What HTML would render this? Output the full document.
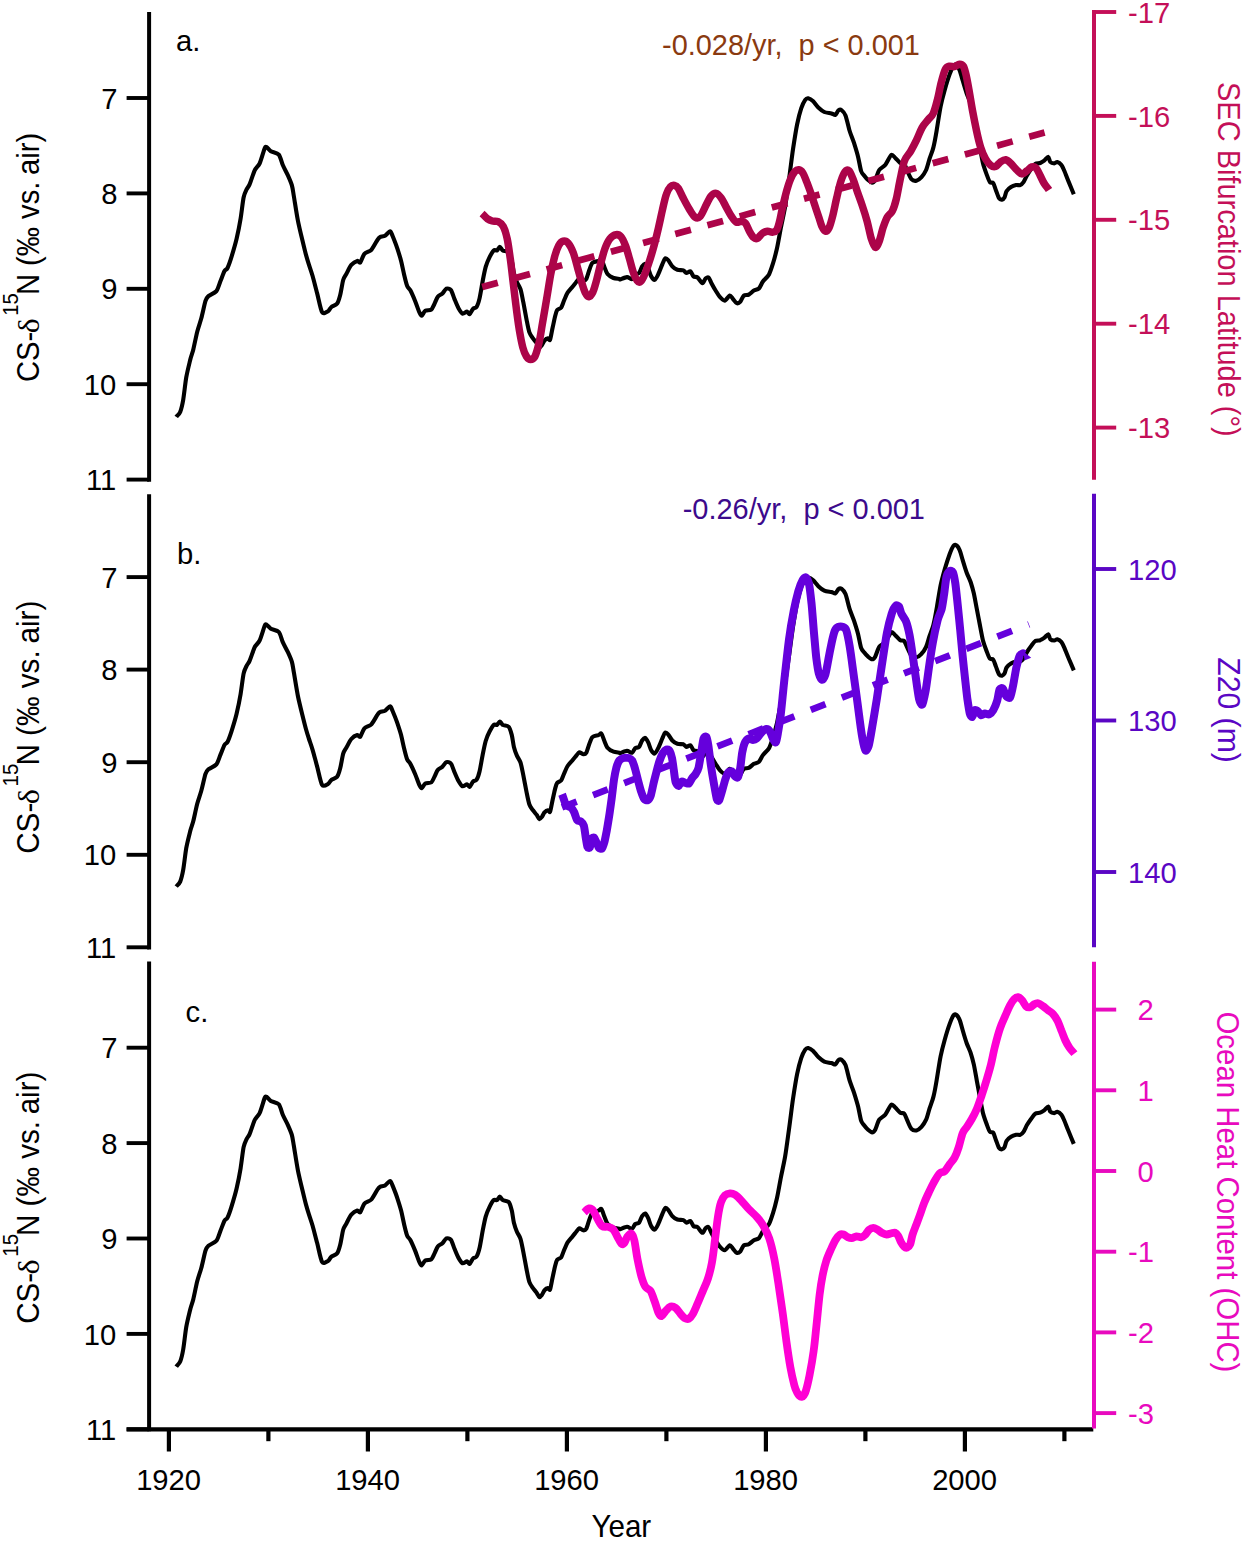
<!DOCTYPE html>
<html><head><meta charset="utf-8"><title>figure</title>
<style>html,body{margin:0;padding:0;background:#fff;}body{width:1242px;height:1542px;overflow:hidden;}svg{display:block;}text{font-family:"Liberation Sans",sans-serif;}text.sy{font-family:"Liberation Serif",serif;}</style>
</head><body>
<svg width="1242" height="1542" viewBox="0 0 1242 1542">
<rect width="1242" height="1542" fill="#ffffff"/>
<line x1="126.6" y1="1429.4" x2="1093.3" y2="1429.4" stroke="#000" stroke-width="4.4"/>
<line x1="168.9" y1="1429.4" x2="168.9" y2="1451.5" stroke="#000" stroke-width="4.2"/>
<text transform="translate(168.6,1490.3) scale(1.0,1.03)" font-size="29.2" fill="#000" text-anchor="middle">1920</text>
<line x1="268.4" y1="1429.4" x2="268.4" y2="1441.2" stroke="#000" stroke-width="4.2"/>
<line x1="367.9" y1="1429.4" x2="367.9" y2="1451.5" stroke="#000" stroke-width="4.2"/>
<text transform="translate(367.6,1490.3) scale(1.0,1.03)" font-size="29.2" fill="#000" text-anchor="middle">1940</text>
<line x1="467.4" y1="1429.4" x2="467.4" y2="1441.2" stroke="#000" stroke-width="4.2"/>
<line x1="566.9" y1="1429.4" x2="566.9" y2="1451.5" stroke="#000" stroke-width="4.2"/>
<text transform="translate(566.6,1490.3) scale(1.0,1.03)" font-size="29.2" fill="#000" text-anchor="middle">1960</text>
<line x1="666.4" y1="1429.4" x2="666.4" y2="1441.2" stroke="#000" stroke-width="4.2"/>
<line x1="765.9" y1="1429.4" x2="765.9" y2="1451.5" stroke="#000" stroke-width="4.2"/>
<text transform="translate(765.6,1490.3) scale(1.0,1.03)" font-size="29.2" fill="#000" text-anchor="middle">1980</text>
<line x1="865.4" y1="1429.4" x2="865.4" y2="1441.2" stroke="#000" stroke-width="4.2"/>
<line x1="964.9" y1="1429.4" x2="964.9" y2="1451.5" stroke="#000" stroke-width="4.2"/>
<text transform="translate(964.6,1490.3) scale(1.0,1.03)" font-size="29.2" fill="#000" text-anchor="middle">2000</text>
<line x1="1064.4" y1="1429.4" x2="1064.4" y2="1441.2" stroke="#000" stroke-width="4.2"/>
<text transform="translate(621.3,1537.3) scale(1.0,1.03)" font-size="29.6" fill="#000" text-anchor="middle">Year</text>
<line x1="149.1" y1="12.1" x2="149.1" y2="481.7" stroke="#000" stroke-width="4.0"/>
<line x1="126.6" y1="98.0" x2="149.1" y2="98.0" stroke="#000" stroke-width="3.9"/>
<text transform="translate(117.6,108.6) scale(1.0,1.03)" font-size="29.2" fill="#000" text-anchor="end">7</text>
<line x1="126.6" y1="193.4" x2="149.1" y2="193.4" stroke="#000" stroke-width="3.9"/>
<text transform="translate(117.6,204.0) scale(1.0,1.03)" font-size="29.2" fill="#000" text-anchor="end">8</text>
<line x1="126.6" y1="288.8" x2="149.1" y2="288.8" stroke="#000" stroke-width="3.9"/>
<text transform="translate(117.6,299.4) scale(1.0,1.03)" font-size="29.2" fill="#000" text-anchor="end">9</text>
<line x1="126.6" y1="384.2" x2="149.1" y2="384.2" stroke="#000" stroke-width="3.9"/>
<text transform="translate(116.2,394.8) scale(1.0,1.03)" font-size="29.2" fill="#000" text-anchor="end">10</text>
<line x1="126.6" y1="479.6" x2="149.1" y2="479.6" stroke="#000" stroke-width="3.9"/>
<text transform="translate(116.2,490.2) scale(1.0,1.03)" font-size="29.2" fill="#000" text-anchor="end">11</text>
<line x1="1094.0" y1="10.0" x2="1094.0" y2="479.7" stroke="#c40f58" stroke-width="4.0"/>
<line x1="1094.0" y1="12.0" x2="1116.2" y2="12.0" stroke="#c40f58" stroke-width="3.9"/>
<text transform="translate(1128.0,22.6) scale(1.0,1.03)" font-size="29.2" fill="#c40f58" text-anchor="start">-17</text>
<line x1="1094.0" y1="115.9" x2="1116.2" y2="115.9" stroke="#c40f58" stroke-width="3.9"/>
<text transform="translate(1128.0,126.5) scale(1.0,1.03)" font-size="29.2" fill="#c40f58" text-anchor="start">-16</text>
<line x1="1094.0" y1="219.8" x2="1116.2" y2="219.8" stroke="#c40f58" stroke-width="3.9"/>
<text transform="translate(1128.0,230.4) scale(1.0,1.03)" font-size="29.2" fill="#c40f58" text-anchor="start">-15</text>
<line x1="1094.0" y1="323.7" x2="1116.2" y2="323.7" stroke="#c40f58" stroke-width="3.9"/>
<text transform="translate(1128.0,334.3) scale(1.0,1.03)" font-size="29.2" fill="#c40f58" text-anchor="start">-14</text>
<line x1="1094.0" y1="427.6" x2="1116.2" y2="427.6" stroke="#c40f58" stroke-width="3.9"/>
<text transform="translate(1128.0,438.2) scale(1.0,1.03)" font-size="29.2" fill="#c40f58" text-anchor="start">-13</text>
<g transform="translate(38.6,382.0) rotate(-90) scale(1,1.05)" fill="#000" font-size="29.20">
<text x="0" y="0">CS-</text>
<text transform="translate(48.8,0) scale(1.08,0.92)" class="sy" font-size="29.5">δ</text>
<text x="66.3" y="-19.2" font-size="20.3">15</text>
<text x="86.9" y="0">N (‰ vs.</text>
<text x="207.1" y="0">air)</text>
</g>
<text transform="translate(1217.5,82.0) rotate(90) scale(1,1.05)" font-size="29.0" fill="#c40f58">SEC Bifurcation Latitude (°)</text>
<text transform="translate(176.0,51.3) scale(1.0,1.03)" font-size="29.2" fill="#000" text-anchor="start">a.</text>
<text transform="translate(662.0,54.6) scale(1.0,1.03)" font-size="28.92" fill="#8a3a10" text-anchor="start">-0.028/yr,&#160; p &lt; 0.001</text>
<path d="M176.2,416.9C176.7,416.2 179.3,414.2 180.2,411.9C181.1,409.6 182.4,404.4 183.2,399.8C184.0,395.2 185.3,383.1 186.2,377.7C187.1,372.3 189.4,363.3 190.3,359.5C191.2,355.7 192.4,353.2 193.3,349.5C194.2,345.8 196.2,335.6 197.3,331.4C198.4,327.2 200.2,322.3 201.3,318.3C202.4,314.3 204.5,304.2 205.4,301.2C206.3,298.2 206.9,297.4 208.4,296.1C209.9,294.8 214.8,293.1 216.4,291.1C218.0,289.1 219.4,283.7 220.5,281.0C221.6,278.3 223.6,272.7 224.5,271.0C225.4,269.3 226.6,269.9 227.5,268.0C228.4,266.1 230.3,260.8 231.5,256.9C232.7,253.0 235.4,243.9 236.6,238.8C237.8,233.7 239.7,224.1 240.6,218.6C241.5,213.1 242.8,201.4 243.6,197.5C244.4,193.6 245.8,191.1 246.6,189.4C247.4,187.7 248.5,186.9 249.6,184.4C250.7,181.9 253.4,173.1 254.7,170.3C256.0,167.5 258.4,166.2 259.7,163.3C261.0,160.4 263.8,150.3 264.7,148.2C265.6,146.1 265.9,146.8 266.7,147.2C267.5,147.6 269.2,150.2 270.8,151.2C272.4,152.2 277.2,152.7 278.8,154.6C280.4,156.5 281.7,162.5 282.9,165.3C284.1,168.1 286.7,172.7 287.9,175.4C289.1,178.1 291.1,182.6 291.9,185.4C292.7,188.2 293.1,191.8 293.9,196.5C294.7,201.2 296.7,214.4 297.9,220.6C299.1,226.8 301.9,238.2 303.0,242.8C304.1,247.4 305.2,252.0 306.0,254.9C306.8,257.8 308.1,262.1 309.0,264.9C309.9,267.7 311.5,272.2 312.6,276.0C313.7,279.8 315.8,288.3 317.1,293.1C318.4,297.9 320.6,309.8 322.1,312.2C323.6,314.6 326.9,311.9 328.1,311.2C329.3,310.5 330.0,308.2 331.2,307.2C332.4,306.2 336.0,305.2 337.2,303.6C338.4,302.0 339.4,298.2 340.2,295.1C341.0,292.0 342.4,282.8 343.2,280.0C344.0,277.2 345.2,276.0 346.3,274.0C347.4,272.0 349.8,266.6 351.3,264.9C352.8,263.2 356.1,261.2 357.3,260.9C358.5,260.6 359.4,263.4 360.3,262.5C361.2,261.6 362.9,255.6 364.4,253.9C365.9,252.2 369.7,251.7 371.4,249.8C373.1,247.9 376.4,241.5 377.5,239.8C378.6,238.1 379.0,237.6 380.0,237.1C381.0,236.6 383.7,236.5 385.0,235.7C386.3,234.9 389.1,231.3 390.1,231.3C391.1,231.3 391.6,233.5 392.5,235.7C393.4,237.9 396.0,244.4 397.1,247.8C398.2,251.2 400.2,257.3 401.1,260.9C402.0,264.5 403.4,271.6 404.2,275.0C405.0,278.4 406.4,284.1 407.2,286.1C408.0,288.1 409.1,288.1 410.2,290.1C411.3,292.1 414.0,298.3 415.2,301.2C416.4,304.1 418.4,310.3 419.3,312.2C420.2,314.1 420.9,315.9 421.7,315.7C422.5,315.5 424.0,311.6 425.3,310.8C426.6,310.0 430.1,310.5 431.3,309.6C432.5,308.7 433.4,305.9 434.3,304.2C435.2,302.5 436.7,298.1 437.8,296.7C438.9,295.3 441.3,294.6 442.4,293.5C443.5,292.4 445.3,289.2 446.4,288.7C447.5,288.2 449.8,288.7 450.9,290.1C452.0,291.5 453.5,296.7 454.5,299.1C455.5,301.5 457.4,306.3 458.5,308.2C459.6,310.1 461.4,313.1 462.5,313.6C463.6,314.1 466.1,311.5 467.0,311.6C467.9,311.7 468.8,314.6 469.6,314.2C470.4,313.8 472.1,309.8 473.0,308.8C473.9,307.8 475.7,308.2 476.6,306.8C477.5,305.4 478.8,301.5 479.6,298.1C480.4,294.7 481.9,285.2 482.7,281.0C483.5,276.8 484.8,270.1 485.7,266.9C486.6,263.7 488.6,259.1 489.7,256.9C490.8,254.7 492.7,251.3 493.7,250.4C494.7,249.5 496.3,250.9 497.1,250.4C497.9,249.9 499.0,246.8 499.8,246.8C500.6,246.8 501.6,249.7 502.8,250.4C504.0,251.1 507.6,251.0 508.8,252.4C510.0,253.8 511.1,258.2 511.8,260.9C512.5,263.6 513.2,270.2 513.9,273.0C514.6,275.8 516.0,279.9 516.9,282.0C517.8,284.1 519.6,286.4 520.5,289.1C521.4,291.8 522.5,298.2 523.3,302.2C524.1,306.2 525.7,315.3 526.5,319.3C527.3,323.3 528.5,329.9 529.4,332.4C530.3,334.9 532.0,337.0 533.0,338.4C534.0,339.8 535.7,341.8 536.6,343.0C537.5,344.2 538.7,347.2 539.4,347.5C540.1,347.8 541.3,345.9 542.0,345.0C542.7,344.1 543.8,341.3 544.6,340.4C545.4,339.5 547.4,338.5 548.1,338.4C548.8,338.3 549.5,341.3 550.1,339.8C550.7,338.3 552.0,330.4 552.7,327.3C553.4,324.2 554.5,318.6 555.1,316.3C555.7,314.0 556.3,311.4 557.1,310.2C557.9,309.0 560.3,308.9 561.2,307.6C562.1,306.3 563.3,302.2 564.2,300.2C565.1,298.2 566.5,294.4 567.6,292.7C568.7,291.0 571.0,288.5 572.2,287.1C573.4,285.7 575.4,283.1 576.3,282.0C577.2,280.9 578.4,278.8 579.3,278.6C580.2,278.4 582.4,280.5 583.3,280.6C584.2,280.7 585.5,280.4 586.3,279.0C587.1,277.6 588.5,272.1 589.3,270.0C590.1,267.9 591.2,264.1 592.4,262.9C593.6,261.7 597.2,261.4 598.4,260.9C599.6,260.4 600.6,258.5 601.4,259.3C602.2,260.1 603.6,264.9 604.4,266.9C605.2,268.9 606.3,272.5 607.5,274.0C608.7,275.5 611.9,277.3 613.5,278.0C615.1,278.7 618.6,278.8 619.5,279.0C620.4,279.2 619.0,279.8 620.0,279.5C621.0,279.2 625.4,277.2 627.0,277.1C628.6,277.0 631.0,279.5 632.1,279.1C633.2,278.7 634.2,275.2 635.1,274.4C636.0,273.6 638.2,274.1 639.1,273.0C640.0,271.9 641.3,267.6 642.1,266.4C642.9,265.2 644.4,263.5 645.2,263.8C646.0,264.1 647.4,266.7 648.2,268.4C649.0,270.1 650.3,274.9 651.2,276.4C652.1,277.9 653.7,280.2 654.6,279.9C655.5,279.6 657.2,276.5 658.2,274.4C659.2,272.3 661.4,266.5 662.3,264.4C663.2,262.3 664.5,258.8 665.3,258.3C666.1,257.8 667.4,259.2 668.3,260.3C669.2,261.4 671.1,265.1 672.3,266.4C673.5,267.7 675.9,269.3 677.4,269.8C678.9,270.3 682.2,270.0 683.4,270.4C684.6,270.8 685.5,272.9 686.4,273.0C687.3,273.1 689.6,270.9 690.5,271.4C691.4,271.9 692.6,275.6 693.5,276.4C694.4,277.2 696.3,276.6 697.5,277.5C698.7,278.4 701.4,283.0 702.5,283.1C703.6,283.2 704.7,279.2 705.5,278.5C706.3,277.8 707.8,276.8 708.6,277.5C709.4,278.2 710.7,281.8 711.6,283.5C712.5,285.2 714.5,288.8 715.6,290.5C716.7,292.2 718.4,295.3 719.6,296.6C720.8,297.9 723.4,300.7 724.7,300.6C726.0,300.5 728.6,295.9 729.7,295.6C730.8,295.3 731.8,297.6 732.7,298.6C733.6,299.6 735.8,302.8 736.8,303.2C737.8,303.6 739.5,302.6 740.4,301.6C741.3,300.6 742.7,296.5 743.8,295.6C744.9,294.7 747.5,295.3 748.8,294.6C750.1,293.9 752.6,291.3 753.9,290.5C755.2,289.7 757.7,289.7 758.9,288.5C760.1,287.3 761.6,283.4 762.9,281.5C764.2,279.6 767.7,276.8 769.0,274.4C770.3,272.0 771.9,266.9 773.0,263.4C774.1,259.9 775.9,253.1 777.0,248.3C778.1,243.5 779.9,232.6 781.0,227.1C782.1,221.6 784.0,213.4 785.1,207.0C786.2,200.6 788.0,186.6 789.1,178.8C790.2,171.0 792.0,155.8 793.1,148.6C794.2,141.4 796.0,129.9 797.1,124.5C798.2,119.1 800.1,111.7 801.2,108.4C802.3,105.1 804.3,101.2 805.2,99.9C806.1,98.6 807.1,98.1 808.2,98.3C809.3,98.5 811.9,100.1 813.2,101.3C814.5,102.5 816.8,106.0 818.3,107.4C819.8,108.8 822.6,111.2 824.3,112.0C826.0,112.8 829.9,113.0 831.4,113.4C832.9,113.8 834.5,115.2 835.4,114.8C836.3,114.4 837.6,111.0 838.4,110.4C839.2,109.8 840.5,109.3 841.4,110.0C842.3,110.7 844.4,112.7 845.5,115.4C846.6,118.1 848.4,126.8 849.5,130.5C850.6,134.2 852.9,139.4 854.0,142.9C855.1,146.4 857.2,153.2 858.1,156.9C859.0,160.6 860.3,168.5 861.1,171.0C861.9,173.5 863.2,174.3 864.1,175.5C865.0,176.7 867.0,179.1 868.1,180.1C869.2,181.1 871.2,182.7 872.1,182.7C873.0,182.7 874.3,181.8 875.2,180.1C876.1,178.4 877.9,172.0 879.2,170.0C880.5,168.0 883.6,167.0 885.2,165.0C886.8,163.0 890.0,155.8 891.3,154.9C892.6,154.0 894.1,156.8 895.3,157.9C896.5,159.0 899.1,162.2 900.3,163.0C901.5,163.8 903.4,162.9 904.3,164.0C905.2,165.1 906.5,169.0 907.4,171.0C908.3,173.0 910.2,177.8 911.4,179.1C912.6,180.4 915.1,181.0 916.4,180.7C917.7,180.4 920.2,178.5 921.5,177.1C922.8,175.7 925.0,172.4 926.1,170.0C927.2,167.6 928.5,162.0 929.5,158.9C930.5,155.8 932.6,150.6 933.5,146.9C934.4,143.2 935.7,136.2 936.6,130.8C937.5,125.4 939.5,112.0 940.6,106.6C941.7,101.2 943.4,94.8 944.6,90.5C945.8,86.2 948.4,77.7 949.6,74.4C950.8,71.1 952.8,66.6 953.7,65.4C954.6,64.2 955.9,64.7 956.7,65.4C957.5,66.1 958.9,68.4 959.7,70.4C960.5,72.4 961.8,77.4 962.7,80.5C963.6,83.6 965.6,90.4 966.7,93.5C967.8,96.6 969.9,100.8 970.8,103.6C971.7,106.4 973.0,111.1 973.8,114.7C974.6,118.3 976.0,126.5 976.8,130.8C977.6,135.1 979.0,142.6 979.8,146.9C980.6,151.2 982.0,159.2 982.9,163.0C983.8,166.8 986.0,172.6 986.9,175.1C987.8,177.6 989.0,181.0 989.9,182.1C990.8,183.2 992.5,182.0 993.3,183.1C994.1,184.2 995.1,188.2 995.9,190.2C996.7,192.2 998.2,196.9 999.0,198.2C999.8,199.5 1001.3,199.7 1002.0,199.6C1002.7,199.5 1004.0,198.3 1004.6,197.2C1005.2,196.1 1005.7,192.5 1006.6,191.2C1007.5,189.9 1009.7,187.9 1011.0,187.1C1012.3,186.3 1014.9,185.4 1016.1,185.1C1017.3,184.8 1019.1,185.5 1020.1,185.1C1021.1,184.7 1022.6,183.4 1023.5,182.1C1024.4,180.8 1026.1,176.8 1027.1,175.1C1028.1,173.4 1030.1,170.5 1031.2,169.0C1032.3,167.5 1034.0,164.8 1035.2,164.0C1036.4,163.2 1039.0,163.5 1040.2,163.0C1041.4,162.5 1043.1,161.4 1044.2,160.6C1045.3,159.8 1047.5,156.7 1048.3,156.9C1049.1,157.1 1049.5,161.1 1050.3,162.0C1051.1,162.9 1053.4,163.4 1054.3,163.4C1055.2,163.4 1056.4,161.8 1057.3,162.0C1058.2,162.2 1060.5,163.8 1061.4,165.0C1062.3,166.2 1063.5,168.9 1064.4,171.0C1065.3,173.1 1067.1,178.0 1068.4,181.1C1069.7,184.2 1073.1,192.5 1073.8,194.2" fill="none" stroke="#000" stroke-width="4.1" stroke-linejoin="round" stroke-linecap="butt"/>
<line x1="482.2" y1="287.1" x2="1044.6" y2="132.6" stroke="#ac0449" stroke-width="6.7" stroke-dasharray="16.2 17.17"/>
<path d="M482.1,213.5C483.0,214.3 485.5,217.3 487.2,218.6C488.9,219.8 490.4,220.5 492.2,221.0C494.0,221.5 496.3,220.7 498.2,221.6C500.1,222.5 501.8,223.8 503.3,226.6C504.8,229.4 506.0,233.3 507.2,238.7C508.4,244.1 509.3,251.8 510.3,258.8C511.3,265.9 512.1,273.3 513.0,281.0C513.9,288.7 514.9,297.1 515.9,305.1C516.9,313.2 518.1,322.2 519.2,329.3C520.4,336.4 521.6,342.9 522.8,347.4C524.0,351.9 525.1,354.4 526.4,356.4C527.7,358.4 529.1,359.5 530.5,359.5C531.9,359.5 533.5,359.1 534.9,356.4C536.3,353.7 537.6,348.9 538.9,343.4C540.2,337.9 541.2,330.6 542.5,323.2C543.8,315.8 545.2,307.2 546.6,299.1C548.0,291.1 549.3,281.9 550.6,274.9C551.9,267.8 553.3,261.7 554.6,256.8C555.9,251.9 557.2,248.3 558.6,245.7C560.0,243.1 561.5,241.5 563.1,241.1C564.7,240.7 566.5,241.1 568.2,243.1C569.9,245.1 571.7,248.5 573.3,252.8C574.9,257.1 576.5,263.9 577.9,268.9C579.3,273.9 580.6,279.0 581.9,283.0C583.1,287.0 584.2,290.7 585.4,293.0C586.5,295.3 587.5,296.9 588.8,296.7C590.0,296.5 591.5,294.9 592.9,292.0C594.2,289.1 595.6,283.9 596.9,279.0C598.2,274.1 599.6,267.8 600.9,262.8C602.2,257.8 603.4,252.8 604.9,248.8C606.4,244.8 608.1,241.0 610.0,238.7C611.9,236.3 614.2,235.0 616.0,234.7C617.8,234.4 619.4,234.9 621.0,236.7C622.6,238.5 624.1,242.0 625.5,245.7C626.9,249.4 628.2,254.3 629.5,258.8C630.8,263.3 632.2,269.3 633.5,272.9C634.8,276.5 636.0,279.1 637.1,280.6C638.2,282.1 639.0,282.6 640.1,282.0C641.2,281.4 642.2,279.8 643.6,276.9C645.0,274.0 646.6,269.6 648.2,264.9C649.8,260.2 651.5,254.9 653.2,248.8C654.9,242.8 656.8,235.0 658.3,228.6C659.8,222.2 661.0,216.2 662.3,210.5C663.6,204.8 664.9,198.3 666.3,194.4C667.6,190.5 669.0,188.3 670.4,186.8C671.8,185.3 673.1,185.1 674.4,185.4C675.7,185.7 676.9,186.2 678.4,188.4C679.9,190.6 681.5,194.9 683.4,198.4C685.2,201.9 687.6,206.4 689.5,209.5C691.4,212.6 693.2,215.9 695.0,217.1C696.8,218.3 698.2,218.5 700.1,216.5C702.0,214.5 704.3,208.5 706.1,205.1C707.9,201.7 709.4,197.9 711.1,196.0C712.8,194.1 714.5,193.1 716.2,193.4C717.9,193.7 719.5,195.7 721.2,198.0C722.9,200.3 724.5,204.1 726.2,207.1C727.9,210.1 729.6,213.6 731.3,216.1C733.0,218.6 734.6,221.3 736.3,222.2C738.0,223.0 739.8,221.0 741.3,221.2C742.8,221.4 744.0,221.5 745.4,223.2C746.8,224.9 748.1,228.8 749.4,231.2C750.7,233.5 752.1,236.1 753.4,237.3C754.7,238.5 755.9,239.0 757.4,238.3C758.9,237.6 760.8,234.4 762.5,233.2C764.2,232.0 765.8,231.4 767.5,231.2C769.2,231.0 771.0,232.4 772.5,232.2C774.0,232.0 775.4,232.0 776.6,230.2C777.8,228.4 778.6,225.0 779.6,221.2C780.6,217.3 781.4,212.1 782.6,207.1C783.8,202.1 785.3,195.7 786.6,191.0C787.9,186.3 789.2,182.1 790.6,178.9C792.0,175.7 793.4,173.3 794.7,171.8C796.1,170.3 797.4,169.6 798.7,169.8C800.0,170.0 801.4,170.8 802.7,172.8C804.0,174.8 805.4,178.5 806.7,181.9C808.1,185.3 809.4,189.1 810.8,193.0C812.1,196.9 813.5,201.1 814.8,205.1C816.1,209.1 817.6,213.6 818.8,217.1C820.0,220.6 820.7,223.8 821.8,226.2C822.9,228.5 824.1,230.9 825.3,231.2C826.5,231.5 827.6,230.9 828.9,228.2C830.2,225.5 831.6,220.3 832.9,215.1C834.2,209.9 835.5,202.7 836.9,197.0C838.2,191.3 839.6,185.1 841.0,180.9C842.4,176.7 843.7,173.5 845.0,171.8C846.3,170.1 847.7,169.6 849.0,170.8C850.3,172.0 851.6,175.5 853.0,178.9C854.4,182.3 855.6,186.6 857.1,191.0C858.6,195.4 860.4,200.1 862.1,205.1C863.8,210.1 865.6,215.7 867.1,221.2C868.6,226.7 869.9,234.0 871.2,238.3C872.6,242.7 873.9,246.8 875.2,247.3C876.5,247.8 877.9,244.7 879.2,241.3C880.5,238.0 881.9,231.2 883.2,227.2C884.6,223.2 885.8,219.8 887.3,217.1C888.8,214.4 890.8,214.1 892.3,211.1C893.8,208.1 895.0,204.4 896.3,199.0C897.6,193.6 898.9,185.3 900.3,178.9C901.7,172.5 902.8,165.4 904.5,160.8C906.2,156.2 908.6,154.8 910.6,151.3C912.6,147.8 914.7,143.9 916.6,139.9C918.5,135.9 920.2,131.0 922.1,127.6C924.0,124.2 926.4,121.9 928.2,119.6C930.1,117.2 931.7,116.7 933.2,113.5C934.7,110.3 935.9,105.7 937.2,100.5C938.6,95.3 939.9,87.5 941.3,82.3C942.6,77.1 944.0,72.0 945.3,69.3C946.6,66.6 947.8,66.7 949.3,66.2C950.8,65.8 952.6,66.9 954.3,66.6C956.0,66.3 957.9,64.3 959.4,64.2C960.9,64.1 962.2,64.2 963.4,66.2C964.6,68.2 965.4,71.9 966.4,76.3C967.4,80.7 968.4,86.7 969.4,92.4C970.4,98.1 971.3,104.1 972.5,110.5C973.7,116.9 975.2,124.5 976.5,130.6C977.8,136.7 979.0,142.1 980.5,146.8C982.0,151.5 983.8,155.7 985.5,158.8C987.2,161.9 988.9,164.0 990.6,165.3C992.3,166.6 993.9,167.1 995.6,166.5C997.3,165.9 998.9,162.9 1000.6,161.8C1002.3,160.7 1004.0,159.6 1005.7,159.8C1007.4,160.1 1008.9,161.6 1010.7,163.3C1012.5,165.0 1014.9,168.1 1016.7,169.9C1018.6,171.7 1020.1,173.7 1021.8,173.9C1023.5,174.1 1025.1,172.1 1026.8,170.9C1028.5,169.7 1030.3,167.4 1031.8,166.9C1033.3,166.4 1034.6,166.6 1035.9,167.9C1037.2,169.2 1038.6,172.4 1039.9,174.9C1041.2,177.4 1042.4,180.5 1043.9,183.0C1045.4,185.5 1048.2,188.8 1049.0,190.0" fill="none" stroke="#ac0449" stroke-width="7.5" stroke-linejoin="round" stroke-linecap="butt"/>
<line x1="149.1" y1="494.2" x2="149.1" y2="949.4" stroke="#000" stroke-width="4.0"/>
<line x1="126.6" y1="577.1" x2="149.1" y2="577.1" stroke="#000" stroke-width="3.9"/>
<text transform="translate(117.6,587.7) scale(1.0,1.03)" font-size="29.2" fill="#000" text-anchor="end">7</text>
<line x1="126.6" y1="669.6" x2="149.1" y2="669.6" stroke="#000" stroke-width="3.9"/>
<text transform="translate(117.6,680.2) scale(1.0,1.03)" font-size="29.2" fill="#000" text-anchor="end">8</text>
<line x1="126.6" y1="762.2" x2="149.1" y2="762.2" stroke="#000" stroke-width="3.9"/>
<text transform="translate(117.6,772.8) scale(1.0,1.03)" font-size="29.2" fill="#000" text-anchor="end">9</text>
<line x1="126.6" y1="854.8" x2="149.1" y2="854.8" stroke="#000" stroke-width="3.9"/>
<text transform="translate(116.2,865.4) scale(1.0,1.03)" font-size="29.2" fill="#000" text-anchor="end">10</text>
<line x1="126.6" y1="947.3" x2="149.1" y2="947.3" stroke="#000" stroke-width="3.9"/>
<text transform="translate(116.2,957.9) scale(1.0,1.03)" font-size="29.2" fill="#000" text-anchor="end">11</text>
<line x1="1094.0" y1="493.8" x2="1094.0" y2="947.3" stroke="#5a06c4" stroke-width="4.0"/>
<line x1="1094.0" y1="569.0" x2="1116.2" y2="569.0" stroke="#5a06c4" stroke-width="3.9"/>
<text transform="translate(1128.0,579.6) scale(1.0,1.03)" font-size="29.2" fill="#5a06c4" text-anchor="start">120</text>
<line x1="1094.0" y1="720.5" x2="1116.2" y2="720.5" stroke="#5a06c4" stroke-width="3.9"/>
<text transform="translate(1128.0,731.1) scale(1.0,1.03)" font-size="29.2" fill="#5a06c4" text-anchor="start">130</text>
<line x1="1094.0" y1="872.0" x2="1116.2" y2="872.0" stroke="#5a06c4" stroke-width="3.9"/>
<text transform="translate(1128.0,882.6) scale(1.0,1.03)" font-size="29.2" fill="#5a06c4" text-anchor="start">140</text>
<g transform="translate(38.6,853.8) rotate(-90) scale(1,1.05)" fill="#000" font-size="29.65">
<text x="0" y="0">CS-</text>
<text transform="translate(49.6,0) scale(1.08,0.92)" class="sy" font-size="30.0">δ</text>
<text x="67.3" y="-19.2" font-size="20.6">15</text>
<text x="88.2" y="0">N (‰ vs.</text>
<text x="210.3" y="0">air)</text>
</g>
<text transform="translate(1217.8,657.2) rotate(90) scale(1,1.05)" font-size="30.2" fill="#5a06c4">Z20 (m)</text>
<text transform="translate(177.0,563.7) scale(1.0,1.03)" font-size="29.2" fill="#000" text-anchor="start">b.</text>
<text transform="translate(682.7,518.5) scale(1.0,1.03)" font-size="28.97" fill="#3c0a8c" text-anchor="start">-0.26/yr,&#160; p &lt; 0.001</text>
<path d="M176.2,886.5C176.7,885.8 179.3,883.8 180.2,881.6C181.1,879.4 182.4,874.3 183.2,869.9C184.0,865.5 185.3,853.7 186.2,848.4C187.1,843.2 189.4,834.4 190.3,830.8C191.2,827.1 192.4,824.7 193.3,821.1C194.2,817.5 196.2,807.6 197.3,803.5C198.4,799.5 200.2,794.7 201.3,790.8C202.4,786.9 204.5,777.1 205.4,774.2C206.3,771.4 206.9,770.6 208.4,769.3C209.9,768.0 214.8,766.4 216.4,764.4C218.0,762.5 219.4,757.2 220.5,754.6C221.6,752.0 223.6,746.6 224.5,744.9C225.4,743.3 226.6,743.8 227.5,742.0C228.4,740.2 230.3,735.0 231.5,731.3C232.7,727.5 235.4,718.6 236.6,713.7C237.8,708.7 239.7,699.4 240.6,694.1C241.5,688.8 242.8,677.4 243.6,673.6C244.4,669.9 245.8,667.5 246.6,665.8C247.4,664.1 248.5,663.4 249.6,660.9C250.7,658.4 253.4,650.0 254.7,647.2C256.0,644.5 258.4,643.3 259.7,640.4C261.0,637.6 263.8,627.9 264.7,625.8C265.6,623.7 265.9,624.4 266.7,624.8C267.5,625.2 269.2,627.8 270.8,628.7C272.4,629.7 277.2,630.2 278.8,632.0C280.4,633.8 281.7,639.7 282.9,642.4C284.1,645.1 286.7,649.6 287.9,652.2C289.1,654.8 291.1,659.2 291.9,661.9C292.7,664.6 293.1,668.1 293.9,672.7C294.7,677.2 296.7,690.0 297.9,696.0C299.1,702.0 301.9,713.1 303.0,717.6C304.1,722.0 305.2,726.5 306.0,729.3C306.8,732.2 308.1,736.3 309.0,739.0C309.9,741.7 311.5,746.1 312.6,749.8C313.7,753.4 315.8,761.7 317.1,766.4C318.4,771.1 320.6,782.6 322.1,784.9C323.6,787.2 326.9,784.6 328.1,783.9C329.3,783.3 330.0,781.0 331.2,780.1C332.4,779.1 336.0,778.1 337.2,776.6C338.4,775.0 339.4,771.4 340.2,768.3C341.0,765.3 342.4,756.4 343.2,753.7C344.0,750.9 345.2,749.8 346.3,747.8C347.4,745.9 349.8,740.7 351.3,739.0C352.8,737.3 356.1,735.4 357.3,735.1C358.5,734.8 359.4,737.6 360.3,736.7C361.2,735.8 362.9,730.0 364.4,728.3C365.9,726.7 369.7,726.2 371.4,724.4C373.1,722.5 376.4,716.3 377.5,714.7C378.6,713.0 379.0,712.6 380.0,712.0C381.0,711.5 383.7,711.4 385.0,710.7C386.3,709.9 389.1,706.4 390.1,706.4C391.1,706.4 391.6,708.6 392.5,710.7C393.4,712.8 396.0,719.2 397.1,722.4C398.2,725.7 400.2,731.6 401.1,735.1C402.0,738.7 403.4,745.6 404.2,748.8C405.0,752.1 406.4,757.6 407.2,759.6C408.0,761.5 409.1,761.5 410.2,763.5C411.3,765.4 414.0,771.4 415.2,774.2C416.4,777.1 418.4,783.0 419.3,784.9C420.2,786.8 420.9,788.5 421.7,788.3C422.5,788.1 424.0,784.3 425.3,783.5C426.6,782.8 430.1,783.2 431.3,782.4C432.5,781.5 433.4,778.8 434.3,777.1C435.2,775.5 436.7,771.2 437.8,769.9C438.9,768.5 441.3,767.8 442.4,766.8C443.5,765.7 445.3,762.5 446.4,762.1C447.5,761.7 449.8,762.1 450.9,763.5C452.0,764.8 453.5,769.9 454.5,772.2C455.5,774.5 457.4,779.1 458.5,781.0C459.6,782.9 461.4,785.8 462.5,786.3C463.6,786.7 466.1,784.2 467.0,784.3C467.9,784.4 468.8,787.2 469.6,786.8C470.4,786.5 472.1,782.6 473.0,781.6C473.9,780.6 475.7,781.0 476.6,779.7C477.5,778.3 478.8,774.6 479.6,771.2C480.4,767.9 481.9,758.7 482.7,754.6C483.5,750.6 484.8,744.1 485.7,741.0C486.6,737.8 488.6,733.4 489.7,731.3C490.8,729.1 492.7,725.8 493.7,724.9C494.7,724.1 496.3,725.4 497.1,724.9C497.9,724.5 499.0,721.5 499.8,721.5C500.6,721.5 501.6,724.2 502.8,724.9C504.0,725.7 507.6,725.5 508.8,726.9C510.0,728.2 511.1,732.5 511.8,735.1C512.5,737.8 513.2,744.1 513.9,746.9C514.6,749.6 516.0,753.5 516.9,755.6C517.8,757.7 519.6,759.9 520.5,762.5C521.4,765.1 522.5,771.3 523.3,775.2C524.1,779.1 525.7,787.9 526.5,791.8C527.3,795.7 528.5,802.0 529.4,804.5C530.3,807.0 532.0,808.9 533.0,810.3C534.0,811.7 535.7,813.6 536.6,814.8C537.5,816.0 538.7,818.9 539.4,819.1C540.1,819.4 541.3,817.6 542.0,816.7C542.7,815.8 543.8,813.1 544.6,812.3C545.4,811.4 547.4,810.4 548.1,810.3C548.8,810.2 549.5,813.1 550.1,811.7C550.7,810.2 552.0,802.6 552.7,799.5C553.4,796.5 554.5,791.1 555.1,788.9C555.7,786.7 556.3,784.1 557.1,783.0C557.9,781.8 560.3,781.7 561.2,780.4C562.1,779.1 563.3,775.2 564.2,773.3C565.1,771.3 566.5,767.7 567.6,766.0C568.7,764.3 571.0,761.9 572.2,760.6C573.4,759.2 575.4,756.7 576.3,755.6C577.2,754.5 578.4,752.5 579.3,752.3C580.2,752.1 582.4,754.2 583.3,754.2C584.2,754.3 585.5,754.1 586.3,752.7C587.1,751.3 588.5,746.0 589.3,744.0C590.1,741.9 591.2,738.3 592.4,737.1C593.6,735.9 597.2,735.6 598.4,735.1C599.6,734.7 600.6,732.8 601.4,733.6C602.2,734.4 603.6,739.1 604.4,741.0C605.2,742.9 606.3,746.4 607.5,747.8C608.7,749.3 611.9,751.1 613.5,751.7C615.1,752.4 618.6,752.5 619.5,752.7C620.4,752.9 619.0,753.4 620.0,753.2C621.0,752.9 625.4,750.9 627.0,750.8C628.6,750.8 631.0,753.1 632.1,752.8C633.2,752.4 634.2,749.0 635.1,748.2C636.0,747.4 638.2,747.9 639.1,746.9C640.0,745.8 641.3,741.7 642.1,740.5C642.9,739.3 644.4,737.7 645.2,737.9C646.0,738.2 647.4,740.8 648.2,742.4C649.0,744.0 650.3,748.7 651.2,750.2C652.1,751.7 653.7,753.8 654.6,753.6C655.5,753.3 657.2,750.2 658.2,748.2C659.2,746.2 661.4,740.6 662.3,738.5C663.2,736.4 664.5,733.1 665.3,732.6C666.1,732.1 667.4,733.5 668.3,734.6C669.2,735.6 671.1,739.2 672.3,740.5C673.5,741.7 675.9,743.3 677.4,743.8C678.9,744.3 682.2,743.9 683.4,744.3C684.6,744.8 685.5,746.7 686.4,746.9C687.3,747.0 689.6,744.9 690.5,745.3C691.4,745.8 692.6,749.4 693.5,750.2C694.4,751.0 696.3,750.4 697.5,751.2C698.7,752.1 701.4,756.5 702.5,756.7C703.6,756.8 704.7,752.9 705.5,752.2C706.3,751.5 707.8,750.6 708.6,751.2C709.4,751.9 710.7,755.4 711.6,757.1C712.5,758.7 714.5,762.2 715.6,763.8C716.7,765.5 718.4,768.5 719.6,769.8C720.8,771.1 723.4,773.8 724.7,773.6C726.0,773.5 728.6,769.1 729.7,768.8C730.8,768.5 731.8,770.7 732.7,771.7C733.6,772.7 735.8,775.8 736.8,776.2C737.8,776.6 739.5,775.6 740.4,774.6C741.3,773.6 742.7,769.7 743.8,768.8C744.9,767.9 747.5,768.5 748.8,767.8C750.1,767.2 752.6,764.6 753.9,763.8C755.2,763.1 757.7,763.1 758.9,761.9C760.1,760.7 761.6,756.9 762.9,755.1C764.2,753.3 767.7,750.6 769.0,748.2C770.3,745.9 771.9,740.9 773.0,737.6C774.1,734.2 775.9,727.6 777.0,722.9C778.1,718.2 779.9,707.7 781.0,702.3C782.1,697.0 784.0,689.1 785.1,682.8C786.2,676.6 788.0,663.0 789.1,655.5C790.2,647.9 792.0,633.2 793.1,626.2C794.2,619.2 796.0,608.0 797.1,602.8C798.2,597.6 800.1,590.4 801.2,587.2C802.3,584.0 804.3,580.2 805.2,578.9C806.1,577.6 807.1,577.2 808.2,577.4C809.3,577.6 811.9,579.1 813.2,580.3C814.5,581.5 816.8,584.8 818.3,586.2C819.8,587.6 822.6,589.9 824.3,590.7C826.0,591.5 829.9,591.7 831.4,592.0C832.9,592.4 834.5,593.8 835.4,593.4C836.3,593.0 837.6,589.8 838.4,589.1C839.2,588.5 840.5,588.1 841.4,588.7C842.3,589.4 844.4,591.3 845.5,594.0C846.6,596.6 848.4,605.1 849.5,608.6C850.6,612.2 852.9,617.2 854.0,620.7C855.1,624.1 857.2,630.6 858.1,634.2C859.0,637.9 860.3,645.5 861.1,647.9C861.9,650.3 863.2,651.1 864.1,652.3C865.0,653.5 867.0,655.8 868.1,656.7C869.2,657.7 871.2,659.3 872.1,659.3C873.0,659.3 874.3,658.4 875.2,656.7C876.1,655.1 877.9,648.9 879.2,646.9C880.5,645.0 883.6,644.1 885.2,642.1C886.8,640.1 890.0,633.2 891.3,632.3C892.6,631.4 894.1,634.2 895.3,635.2C896.5,636.3 899.1,639.4 900.3,640.2C901.5,640.9 903.4,640.1 904.3,641.1C905.2,642.2 906.5,646.0 907.4,647.9C908.3,649.9 910.2,654.5 911.4,655.8C912.6,657.0 915.1,657.6 916.4,657.3C917.7,657.1 920.2,655.2 921.5,653.8C922.8,652.5 925.0,649.3 926.1,646.9C927.2,644.6 928.5,639.2 929.5,636.2C930.5,633.2 932.6,628.2 933.5,624.5C934.4,620.9 935.7,614.1 936.6,608.9C937.5,603.7 939.5,590.7 940.6,585.4C941.7,580.2 943.4,574.0 944.6,569.8C945.8,565.7 948.4,557.5 949.6,554.2C950.8,551.0 952.8,546.6 953.7,545.5C954.6,544.3 955.9,544.8 956.7,545.5C957.5,546.1 958.9,548.4 959.7,550.3C960.5,552.3 961.8,557.1 962.7,560.1C963.6,563.1 965.6,569.7 966.7,572.7C967.8,575.7 969.9,579.8 970.8,582.5C971.7,585.3 973.0,589.8 973.8,593.3C974.6,596.8 976.0,604.8 976.8,608.9C977.6,613.1 979.0,620.4 979.8,624.5C980.6,628.7 982.0,636.5 982.9,640.2C983.8,643.8 986.0,649.4 986.9,651.9C987.8,654.4 989.0,657.7 989.9,658.7C990.8,659.7 992.5,658.6 993.3,659.7C994.1,660.7 995.1,664.6 995.9,666.5C996.7,668.5 998.2,673.1 999.0,674.3C999.8,675.5 1001.3,675.8 1002.0,675.7C1002.7,675.5 1004.0,674.4 1004.6,673.3C1005.2,672.2 1005.7,668.8 1006.6,667.5C1007.5,666.2 1009.7,664.3 1011.0,663.5C1012.3,662.7 1014.9,661.9 1016.1,661.6C1017.3,661.3 1019.1,662.0 1020.1,661.6C1021.1,661.2 1022.6,660.0 1023.5,658.7C1024.4,657.4 1026.1,653.6 1027.1,651.9C1028.1,650.2 1030.1,647.4 1031.2,646.0C1032.3,644.5 1034.0,641.9 1035.2,641.1C1036.4,640.4 1039.0,640.6 1040.2,640.2C1041.4,639.7 1043.1,638.6 1044.2,637.8C1045.3,637.0 1047.5,634.1 1048.3,634.2C1049.1,634.4 1049.5,638.3 1050.3,639.2C1051.1,640.0 1053.4,640.5 1054.3,640.5C1055.2,640.5 1056.4,639.0 1057.3,639.2C1058.2,639.4 1060.5,640.9 1061.4,642.1C1062.3,643.3 1063.5,645.8 1064.4,647.9C1065.3,650.0 1067.1,654.7 1068.4,657.7C1069.7,660.7 1073.1,668.7 1073.8,670.4" fill="none" stroke="#000" stroke-width="4.1" stroke-linejoin="round" stroke-linecap="butt"/>
<line x1="562.0" y1="807.4" x2="1029.0" y2="624.3" stroke="#6500dc" stroke-width="6.7" stroke-dasharray="15.8 17.6"/>
<path d="M562.1,794.2C562.5,795.2 564.4,801.3 565.1,802.7C565.8,804.1 567.4,805.7 568.1,806.3C568.8,806.9 570.4,806.8 571.1,807.5C571.8,808.2 573.5,810.8 574.2,812.3C574.9,813.8 576.4,819.1 577.2,820.2C578.0,821.3 580.0,820.8 580.8,821.4C581.6,822.0 583.2,823.8 583.8,825.6C584.4,827.4 585.2,834.0 585.6,836.5C586.0,839.0 586.9,845.4 587.4,846.7C587.9,848.0 589.4,848.2 589.9,847.3C590.4,846.4 591.2,840.0 591.7,838.9C592.2,837.8 593.5,837.3 594.1,837.7C594.7,838.1 595.9,841.3 596.5,842.5C597.1,843.7 598.3,847.2 598.9,847.9C599.5,848.6 601.3,849.2 601.9,848.6C602.5,848.0 603.7,844.6 604.3,842.5C604.9,840.4 606.2,833.5 606.8,830.4C607.4,827.3 608.6,819.6 609.2,815.9C609.8,812.2 611.0,803.2 611.6,799.0C612.2,794.8 613.4,783.4 614.0,779.7C614.6,776.0 615.8,769.9 616.4,767.6C617.0,765.3 618.5,761.5 619.4,760.4C620.3,759.3 622.6,758.3 623.7,758.0C624.8,757.7 627.5,757.7 628.5,758.0C629.5,758.3 631.3,759.1 632.1,760.4C632.9,761.7 634.4,766.4 635.1,768.8C635.8,771.2 637.5,778.2 638.2,780.9C638.9,783.6 640.5,789.7 641.2,791.8C641.9,793.9 643.4,798.0 644.2,799.0C645.0,800.0 647.0,800.6 647.8,800.2C648.6,799.8 650.2,797.2 650.8,795.4C651.4,793.6 652.7,787.2 653.3,784.5C653.9,781.8 655.6,775.2 656.3,772.5C657.0,769.8 658.5,763.9 659.3,761.6C660.1,759.3 662.1,754.5 662.9,753.1C663.7,751.7 665.7,749.8 666.5,749.5C667.3,749.2 669.0,749.7 669.6,750.7C670.2,751.7 671.5,755.7 672.0,758.0C672.5,760.3 673.4,767.2 673.8,770.0C674.2,772.8 675.0,780.2 675.6,782.1C676.2,784.0 677.9,786.1 678.6,786.0C679.3,785.9 680.9,781.9 681.7,781.5C682.5,781.1 684.5,782.7 685.4,782.9C686.3,783.1 688.2,784.0 689.0,783.5C689.8,783.0 691.2,779.4 692.0,778.3C692.8,777.2 694.8,775.2 695.6,774.0C696.4,772.8 698.0,770.0 698.6,767.6C699.2,765.2 700.5,756.5 701.1,753.1C701.7,749.7 702.9,740.5 703.5,738.6C704.1,736.7 705.7,735.9 706.3,736.8C706.9,737.7 707.9,742.6 708.4,745.9C708.9,749.2 710.3,760.9 710.9,765.2C711.5,769.5 713.1,779.1 713.8,783.0C714.5,786.9 716.2,797.0 716.8,799.0C717.4,801.0 718.6,801.2 719.2,800.2C719.8,799.2 721.5,793.0 722.2,790.6C722.9,788.2 724.5,781.8 725.2,779.7C725.9,777.6 727.4,773.5 728.2,772.5C729.0,771.5 731.1,770.9 731.9,771.3C732.7,771.7 734.2,775.4 734.9,776.1C735.6,776.8 737.3,778.3 737.9,777.3C738.5,776.3 739.8,770.4 740.3,767.6C740.8,764.8 741.6,755.9 742.1,753.1C742.6,750.3 743.8,745.2 744.5,743.5C745.2,741.8 747.2,739.0 748.2,738.6C749.2,738.2 752.0,739.9 753.0,739.9C754.0,739.9 755.6,739.5 756.6,738.6C757.6,737.7 760.3,733.7 761.4,732.6C762.5,731.5 765.3,729.1 766.3,729.0C767.3,728.9 769.1,730.1 769.9,731.4C770.7,732.7 772.8,738.6 773.5,739.9C774.2,741.2 775.4,743.0 775.9,742.3C776.4,741.6 777.3,736.9 777.8,733.8C778.3,730.7 780.0,720.9 780.6,716.0C781.2,711.1 782.6,696.8 783.1,692.0C783.6,687.2 784.2,681.0 784.9,674.9C785.6,668.8 788.0,647.0 789.0,639.5C790.0,632.0 792.7,616.1 793.8,610.5C794.9,604.9 797.3,594.8 798.3,591.2C799.3,587.6 801.8,581.5 802.7,579.9C803.6,578.3 805.1,576.9 805.9,577.5C806.7,578.1 808.5,581.7 809.2,584.8C809.9,587.9 811.0,598.5 811.6,604.1C812.2,609.7 813.4,626.7 814.0,633.1C814.6,639.5 815.8,654.1 816.4,658.8C817.0,663.5 818.1,670.8 818.8,673.3C819.5,675.8 821.2,679.6 822.0,679.8C822.8,680.0 824.5,677.4 825.3,674.9C826.1,672.4 827.8,662.6 828.5,658.8C829.2,655.0 831.0,646.0 831.7,642.7C832.4,639.4 834.1,632.6 834.8,630.8C835.5,629.0 837.0,627.4 838.0,627.0C839.0,626.6 842.2,626.6 843.2,627.0C844.2,627.4 845.7,628.4 846.4,630.6C847.1,632.8 848.9,641.7 849.6,645.9C850.3,650.1 851.9,661.6 852.6,666.9C853.3,672.2 855.1,685.4 855.9,691.0C856.7,696.6 858.4,709.8 859.1,715.2C859.8,720.6 861.6,733.6 862.3,737.7C863.0,741.8 864.8,749.7 865.5,750.6C866.2,751.5 867.9,748.4 868.7,745.8C869.5,743.2 871.1,733.5 872.0,728.1C872.9,722.7 875.7,706.2 876.8,699.1C877.9,692.0 880.4,674.6 881.6,666.9C882.8,659.2 885.7,639.3 886.9,633.1C888.1,626.9 890.7,616.9 891.7,613.7C892.7,610.5 894.9,606.5 895.8,605.7C896.7,604.9 898.3,605.6 899.0,606.5C899.7,607.4 900.6,611.9 901.4,613.7C902.2,615.5 905.3,619.3 906.2,621.8C907.1,624.2 908.7,630.8 909.5,634.7C910.3,638.6 912.0,650.5 912.7,655.6C913.4,660.7 915.2,673.0 915.9,678.1C916.6,683.2 918.4,696.0 919.1,699.1C919.8,702.2 921.5,705.6 922.3,704.7C923.1,703.8 924.8,695.2 925.6,691.0C926.4,686.8 928.0,674.1 928.8,668.5C929.6,662.9 931.8,648.3 932.8,642.7C933.8,637.1 936.6,624.1 937.6,620.2C938.6,616.3 940.9,611.9 941.7,608.9C942.5,605.9 943.5,598.2 944.1,594.4C944.7,590.6 945.8,579.4 946.5,576.7C947.2,574.0 949.0,571.6 949.7,571.1C950.4,570.6 952.2,570.8 952.9,572.2C953.6,573.6 954.7,579.2 955.3,583.1C955.9,587.0 957.2,600.3 957.8,605.7C958.4,611.1 959.6,624.0 960.2,629.8C960.8,635.6 962.0,650.0 962.6,655.6C963.2,661.2 964.4,673.0 965.0,678.1C965.6,683.2 966.8,695.0 967.4,699.1C968.0,703.2 969.2,711.5 969.8,713.6C970.4,715.7 971.7,717.2 972.3,716.8C972.9,716.4 974.0,711.1 974.7,710.4C975.4,709.7 977.2,710.6 977.9,711.2C978.6,711.8 980.3,714.9 981.1,715.2C981.9,715.5 984.2,713.7 985.1,713.6C986.0,713.5 988.3,714.8 989.2,714.4C990.1,714.0 992.3,712.0 993.2,710.4C994.1,708.8 996.5,703.2 997.2,700.7C997.9,698.2 998.9,690.8 999.6,689.4C1000.3,688.0 1002.1,687.8 1002.9,688.6C1003.7,689.4 1005.3,694.9 1006.1,695.9C1006.9,696.9 1009.3,698.8 1010.1,697.5C1010.9,696.2 1012.6,688.2 1013.3,684.6C1014.0,681.0 1015.7,670.3 1016.5,666.9C1017.3,663.5 1019.0,657.2 1019.8,655.6C1020.6,654.0 1022.4,653.4 1023.0,653.2C1023.6,653.0 1024.4,653.9 1024.6,654.0" fill="none" stroke="#6500dc" stroke-width="8.0" stroke-linejoin="round" stroke-linecap="butt"/>
<polygon points="1023.5,651.5 1031.2,657.8 1024.5,660.5" fill="#6500dc"/>
<line x1="149.1" y1="961.5" x2="149.1" y2="1431.3" stroke="#000" stroke-width="4.0"/>
<line x1="126.6" y1="1047.7" x2="149.1" y2="1047.7" stroke="#000" stroke-width="3.9"/>
<text transform="translate(117.6,1058.3) scale(1.0,1.03)" font-size="29.2" fill="#000" text-anchor="end">7</text>
<line x1="126.6" y1="1143.1" x2="149.1" y2="1143.1" stroke="#000" stroke-width="3.9"/>
<text transform="translate(117.6,1153.7) scale(1.0,1.03)" font-size="29.2" fill="#000" text-anchor="end">8</text>
<line x1="126.6" y1="1238.5" x2="149.1" y2="1238.5" stroke="#000" stroke-width="3.9"/>
<text transform="translate(117.6,1249.1) scale(1.0,1.03)" font-size="29.2" fill="#000" text-anchor="end">9</text>
<line x1="126.6" y1="1333.9" x2="149.1" y2="1333.9" stroke="#000" stroke-width="3.9"/>
<text transform="translate(116.2,1344.5) scale(1.0,1.03)" font-size="29.2" fill="#000" text-anchor="end">10</text>
<line x1="126.6" y1="1429.3" x2="149.1" y2="1429.3" stroke="#000" stroke-width="3.9"/>
<text transform="translate(116.2,1439.9) scale(1.0,1.03)" font-size="29.2" fill="#000" text-anchor="end">11</text>
<line x1="1094.0" y1="961.7" x2="1094.0" y2="1428.5" stroke="#e80abe" stroke-width="4.0"/>
<line x1="1094.0" y1="1009.6" x2="1116.2" y2="1009.6" stroke="#e80abe" stroke-width="3.9"/>
<text transform="translate(1137.6,1020.2) scale(1.0,1.03)" font-size="29.2" fill="#e80abe" text-anchor="start">2</text>
<line x1="1094.0" y1="1090.3" x2="1116.2" y2="1090.3" stroke="#e80abe" stroke-width="3.9"/>
<text transform="translate(1137.6,1100.9) scale(1.0,1.03)" font-size="29.2" fill="#e80abe" text-anchor="start">1</text>
<line x1="1094.0" y1="1171.0" x2="1116.2" y2="1171.0" stroke="#e80abe" stroke-width="3.9"/>
<text transform="translate(1137.6,1181.6) scale(1.0,1.03)" font-size="29.2" fill="#e80abe" text-anchor="start">0</text>
<line x1="1094.0" y1="1251.7" x2="1116.2" y2="1251.7" stroke="#e80abe" stroke-width="3.9"/>
<text transform="translate(1128.0,1262.3) scale(1.0,1.03)" font-size="29.2" fill="#e80abe" text-anchor="start">-1</text>
<line x1="1094.0" y1="1332.4" x2="1116.2" y2="1332.4" stroke="#e80abe" stroke-width="3.9"/>
<text transform="translate(1128.0,1343.0) scale(1.0,1.03)" font-size="29.2" fill="#e80abe" text-anchor="start">-2</text>
<line x1="1094.0" y1="1413.1" x2="1116.2" y2="1413.1" stroke="#e80abe" stroke-width="3.9"/>
<text transform="translate(1128.0,1423.7) scale(1.0,1.03)" font-size="29.2" fill="#e80abe" text-anchor="start">-3</text>
<g transform="translate(38.6,1323.8) rotate(-90) scale(1,1.05)" fill="#000" font-size="29.53">
<text x="0" y="0">CS-</text>
<text transform="translate(49.4,0) scale(1.08,0.92)" class="sy" font-size="29.8">δ</text>
<text x="67.1" y="-19.2" font-size="20.5">15</text>
<text x="87.9" y="0">N (‰ vs.</text>
<text x="209.5" y="0">air)</text>
</g>
<text transform="translate(1216.8,1011.5) rotate(90) scale(1,1.05)" font-size="29.4" fill="#e80abe">Ocean Heat Content (OHC)</text>
<text transform="translate(185.6,1021.9) scale(1.0,1.03)" font-size="29.2" fill="#000" text-anchor="start">c.</text>
<path d="M176.2,1366.6C176.7,1365.9 179.3,1363.9 180.2,1361.6C181.1,1359.3 182.4,1354.1 183.2,1349.5C184.0,1344.9 185.3,1332.8 186.2,1327.4C187.1,1322.0 189.4,1313.0 190.3,1309.2C191.2,1305.4 192.4,1302.9 193.3,1299.2C194.2,1295.5 196.2,1285.3 197.3,1281.1C198.4,1276.9 200.2,1272.0 201.3,1268.0C202.4,1264.0 204.5,1253.9 205.4,1250.9C206.3,1247.9 206.9,1247.1 208.4,1245.8C209.9,1244.5 214.8,1242.8 216.4,1240.8C218.0,1238.8 219.4,1233.4 220.5,1230.7C221.6,1228.0 223.6,1222.4 224.5,1220.7C225.4,1219.0 226.6,1219.6 227.5,1217.7C228.4,1215.8 230.3,1210.5 231.5,1206.6C232.7,1202.7 235.4,1193.6 236.6,1188.5C237.8,1183.4 239.7,1173.8 240.6,1168.3C241.5,1162.8 242.8,1151.1 243.6,1147.2C244.4,1143.3 245.8,1140.8 246.6,1139.1C247.4,1137.4 248.5,1136.6 249.6,1134.1C250.7,1131.6 253.4,1122.8 254.7,1120.0C256.0,1117.2 258.4,1115.9 259.7,1113.0C261.0,1110.1 263.8,1100.0 264.7,1097.9C265.6,1095.8 265.9,1096.5 266.7,1096.9C267.5,1097.3 269.2,1099.9 270.8,1100.9C272.4,1101.9 277.2,1102.4 278.8,1104.3C280.4,1106.2 281.7,1112.2 282.9,1115.0C284.1,1117.8 286.7,1122.4 287.9,1125.1C289.1,1127.8 291.1,1132.3 291.9,1135.1C292.7,1137.9 293.1,1141.5 293.9,1146.2C294.7,1150.9 296.7,1164.1 297.9,1170.3C299.1,1176.5 301.9,1187.9 303.0,1192.5C304.1,1197.1 305.2,1201.7 306.0,1204.6C306.8,1207.5 308.1,1211.8 309.0,1214.6C309.9,1217.4 311.5,1221.9 312.6,1225.7C313.7,1229.5 315.8,1238.0 317.1,1242.8C318.4,1247.6 320.6,1259.5 322.1,1261.9C323.6,1264.3 326.9,1261.6 328.1,1260.9C329.3,1260.2 330.0,1257.9 331.2,1256.9C332.4,1255.9 336.0,1254.9 337.2,1253.3C338.4,1251.7 339.4,1247.9 340.2,1244.8C341.0,1241.7 342.4,1232.5 343.2,1229.7C344.0,1226.9 345.2,1225.7 346.3,1223.7C347.4,1221.7 349.8,1216.3 351.3,1214.6C352.8,1212.9 356.1,1210.9 357.3,1210.6C358.5,1210.3 359.4,1213.1 360.3,1212.2C361.2,1211.3 362.9,1205.3 364.4,1203.6C365.9,1201.9 369.7,1201.4 371.4,1199.5C373.1,1197.6 376.4,1191.2 377.5,1189.5C378.6,1187.8 379.0,1187.3 380.0,1186.8C381.0,1186.3 383.7,1186.2 385.0,1185.4C386.3,1184.6 389.1,1181.0 390.1,1181.0C391.1,1181.0 391.6,1183.2 392.5,1185.4C393.4,1187.6 396.0,1194.1 397.1,1197.5C398.2,1200.9 400.2,1207.0 401.1,1210.6C402.0,1214.2 403.4,1221.3 404.2,1224.7C405.0,1228.1 406.4,1233.8 407.2,1235.8C408.0,1237.8 409.1,1237.8 410.2,1239.8C411.3,1241.8 414.0,1248.0 415.2,1250.9C416.4,1253.8 418.4,1260.0 419.3,1261.9C420.2,1263.8 420.9,1265.6 421.7,1265.4C422.5,1265.2 424.0,1261.3 425.3,1260.5C426.6,1259.7 430.1,1260.2 431.3,1259.3C432.5,1258.4 433.4,1255.6 434.3,1253.9C435.2,1252.2 436.7,1247.8 437.8,1246.4C438.9,1245.0 441.3,1244.3 442.4,1243.2C443.5,1242.1 445.3,1238.9 446.4,1238.4C447.5,1237.9 449.8,1238.4 450.9,1239.8C452.0,1241.2 453.5,1246.4 454.5,1248.8C455.5,1251.2 457.4,1256.0 458.5,1257.9C459.6,1259.8 461.4,1262.8 462.5,1263.3C463.6,1263.8 466.1,1261.2 467.0,1261.3C467.9,1261.4 468.8,1264.3 469.6,1263.9C470.4,1263.5 472.1,1259.5 473.0,1258.5C473.9,1257.5 475.7,1257.9 476.6,1256.5C477.5,1255.1 478.8,1251.2 479.6,1247.8C480.4,1244.4 481.9,1234.9 482.7,1230.7C483.5,1226.5 484.8,1219.8 485.7,1216.6C486.6,1213.4 488.6,1208.8 489.7,1206.6C490.8,1204.4 492.7,1201.0 493.7,1200.1C494.7,1199.2 496.3,1200.6 497.1,1200.1C497.9,1199.6 499.0,1196.5 499.8,1196.5C500.6,1196.5 501.6,1199.4 502.8,1200.1C504.0,1200.8 507.6,1200.7 508.8,1202.1C510.0,1203.5 511.1,1207.9 511.8,1210.6C512.5,1213.3 513.2,1219.9 513.9,1222.7C514.6,1225.5 516.0,1229.6 516.9,1231.7C517.8,1233.8 519.6,1236.1 520.5,1238.8C521.4,1241.5 522.5,1247.9 523.3,1251.9C524.1,1255.9 525.7,1265.0 526.5,1269.0C527.3,1273.0 528.5,1279.6 529.4,1282.1C530.3,1284.6 532.0,1286.7 533.0,1288.1C534.0,1289.5 535.7,1291.5 536.6,1292.7C537.5,1293.9 538.7,1296.9 539.4,1297.2C540.1,1297.5 541.3,1295.6 542.0,1294.7C542.7,1293.8 543.8,1291.0 544.6,1290.1C545.4,1289.2 547.4,1288.2 548.1,1288.1C548.8,1288.0 549.5,1291.0 550.1,1289.5C550.7,1288.0 552.0,1280.1 552.7,1277.0C553.4,1273.9 554.5,1268.3 555.1,1266.0C555.7,1263.7 556.3,1261.1 557.1,1259.9C557.9,1258.7 560.3,1258.6 561.2,1257.3C562.1,1256.0 563.3,1251.9 564.2,1249.9C565.1,1247.9 566.5,1244.1 567.6,1242.4C568.7,1240.7 571.0,1238.2 572.2,1236.8C573.4,1235.4 575.4,1232.8 576.3,1231.7C577.2,1230.6 578.4,1228.5 579.3,1228.3C580.2,1228.1 582.4,1230.2 583.3,1230.3C584.2,1230.4 585.5,1230.1 586.3,1228.7C587.1,1227.3 588.5,1221.8 589.3,1219.7C590.1,1217.6 591.2,1213.8 592.4,1212.6C593.6,1211.4 597.2,1211.1 598.4,1210.6C599.6,1210.1 600.6,1208.2 601.4,1209.0C602.2,1209.8 603.6,1214.6 604.4,1216.6C605.2,1218.6 606.3,1222.2 607.5,1223.7C608.7,1225.2 611.9,1227.0 613.5,1227.7C615.1,1228.4 618.6,1228.5 619.5,1228.7C620.4,1228.9 619.0,1229.5 620.0,1229.2C621.0,1228.9 625.4,1226.9 627.0,1226.8C628.6,1226.7 631.0,1229.2 632.1,1228.8C633.2,1228.4 634.2,1224.9 635.1,1224.1C636.0,1223.3 638.2,1223.8 639.1,1222.7C640.0,1221.6 641.3,1217.3 642.1,1216.1C642.9,1214.9 644.4,1213.2 645.2,1213.5C646.0,1213.8 647.4,1216.4 648.2,1218.1C649.0,1219.8 650.3,1224.6 651.2,1226.1C652.1,1227.6 653.7,1229.9 654.6,1229.6C655.5,1229.3 657.2,1226.2 658.2,1224.1C659.2,1222.0 661.4,1216.2 662.3,1214.1C663.2,1212.0 664.5,1208.5 665.3,1208.0C666.1,1207.5 667.4,1208.9 668.3,1210.0C669.2,1211.1 671.1,1214.8 672.3,1216.1C673.5,1217.4 675.9,1219.0 677.4,1219.5C678.9,1220.0 682.2,1219.7 683.4,1220.1C684.6,1220.5 685.5,1222.6 686.4,1222.7C687.3,1222.8 689.6,1220.6 690.5,1221.1C691.4,1221.6 692.6,1225.3 693.5,1226.1C694.4,1226.9 696.3,1226.3 697.5,1227.2C698.7,1228.1 701.4,1232.7 702.5,1232.8C703.6,1232.9 704.7,1228.9 705.5,1228.2C706.3,1227.5 707.8,1226.5 708.6,1227.2C709.4,1227.9 710.7,1231.5 711.6,1233.2C712.5,1234.9 714.5,1238.5 715.6,1240.2C716.7,1241.9 718.4,1245.0 719.6,1246.3C720.8,1247.6 723.4,1250.4 724.7,1250.3C726.0,1250.2 728.6,1245.6 729.7,1245.3C730.8,1245.0 731.8,1247.3 732.7,1248.3C733.6,1249.3 735.8,1252.5 736.8,1252.9C737.8,1253.3 739.5,1252.3 740.4,1251.3C741.3,1250.3 742.7,1246.2 743.8,1245.3C744.9,1244.4 747.5,1245.0 748.8,1244.3C750.1,1243.6 752.6,1241.0 753.9,1240.2C755.2,1239.4 757.7,1239.4 758.9,1238.2C760.1,1237.0 761.6,1233.1 762.9,1231.2C764.2,1229.3 767.7,1226.5 769.0,1224.1C770.3,1221.7 771.9,1216.6 773.0,1213.1C774.1,1209.6 775.9,1202.8 777.0,1198.0C778.1,1193.2 779.9,1182.3 781.0,1176.8C782.1,1171.3 784.0,1163.1 785.1,1156.7C786.2,1150.3 788.0,1136.3 789.1,1128.5C790.2,1120.7 792.0,1105.5 793.1,1098.3C794.2,1091.1 796.0,1079.6 797.1,1074.2C798.2,1068.8 800.1,1061.4 801.2,1058.1C802.3,1054.8 804.3,1050.9 805.2,1049.6C806.1,1048.3 807.1,1047.8 808.2,1048.0C809.3,1048.2 811.9,1049.8 813.2,1051.0C814.5,1052.2 816.8,1055.7 818.3,1057.1C819.8,1058.5 822.6,1060.9 824.3,1061.7C826.0,1062.5 829.9,1062.7 831.4,1063.1C832.9,1063.5 834.5,1064.9 835.4,1064.5C836.3,1064.1 837.6,1060.7 838.4,1060.1C839.2,1059.5 840.5,1059.0 841.4,1059.7C842.3,1060.4 844.4,1062.4 845.5,1065.1C846.6,1067.8 848.4,1076.5 849.5,1080.2C850.6,1083.9 852.9,1089.1 854.0,1092.6C855.1,1096.1 857.2,1102.9 858.1,1106.6C859.0,1110.3 860.3,1118.2 861.1,1120.7C861.9,1123.2 863.2,1124.0 864.1,1125.2C865.0,1126.4 867.0,1128.8 868.1,1129.8C869.2,1130.8 871.2,1132.4 872.1,1132.4C873.0,1132.4 874.3,1131.5 875.2,1129.8C876.1,1128.1 877.9,1121.7 879.2,1119.7C880.5,1117.7 883.6,1116.7 885.2,1114.7C886.8,1112.7 890.0,1105.5 891.3,1104.6C892.6,1103.7 894.1,1106.5 895.3,1107.6C896.5,1108.7 899.1,1111.9 900.3,1112.7C901.5,1113.5 903.4,1112.6 904.3,1113.7C905.2,1114.8 906.5,1118.7 907.4,1120.7C908.3,1122.7 910.2,1127.5 911.4,1128.8C912.6,1130.1 915.1,1130.7 916.4,1130.4C917.7,1130.1 920.2,1128.2 921.5,1126.8C922.8,1125.4 925.0,1122.1 926.1,1119.7C927.2,1117.3 928.5,1111.7 929.5,1108.6C930.5,1105.5 932.6,1100.3 933.5,1096.6C934.4,1092.9 935.7,1085.9 936.6,1080.5C937.5,1075.1 939.5,1061.7 940.6,1056.3C941.7,1050.9 943.4,1044.5 944.6,1040.2C945.8,1035.9 948.4,1027.4 949.6,1024.1C950.8,1020.8 952.8,1016.3 953.7,1015.1C954.6,1013.9 955.9,1014.4 956.7,1015.1C957.5,1015.8 958.9,1018.1 959.7,1020.1C960.5,1022.1 961.8,1027.1 962.7,1030.2C963.6,1033.3 965.6,1040.1 966.7,1043.2C967.8,1046.3 969.9,1050.5 970.8,1053.3C971.7,1056.1 973.0,1060.8 973.8,1064.4C974.6,1068.0 976.0,1076.2 976.8,1080.5C977.6,1084.8 979.0,1092.3 979.8,1096.6C980.6,1100.9 982.0,1108.9 982.9,1112.7C983.8,1116.5 986.0,1122.3 986.9,1124.8C987.8,1127.3 989.0,1130.7 989.9,1131.8C990.8,1132.9 992.5,1131.7 993.3,1132.8C994.1,1133.9 995.1,1137.9 995.9,1139.9C996.7,1141.9 998.2,1146.6 999.0,1147.9C999.8,1149.2 1001.3,1149.4 1002.0,1149.3C1002.7,1149.2 1004.0,1148.0 1004.6,1146.9C1005.2,1145.8 1005.7,1142.2 1006.6,1140.9C1007.5,1139.6 1009.7,1137.6 1011.0,1136.8C1012.3,1136.0 1014.9,1135.1 1016.1,1134.8C1017.3,1134.5 1019.1,1135.2 1020.1,1134.8C1021.1,1134.4 1022.6,1133.1 1023.5,1131.8C1024.4,1130.5 1026.1,1126.5 1027.1,1124.8C1028.1,1123.1 1030.1,1120.2 1031.2,1118.7C1032.3,1117.2 1034.0,1114.5 1035.2,1113.7C1036.4,1112.9 1039.0,1113.2 1040.2,1112.7C1041.4,1112.2 1043.1,1111.1 1044.2,1110.3C1045.3,1109.5 1047.5,1106.4 1048.3,1106.6C1049.1,1106.8 1049.5,1110.8 1050.3,1111.7C1051.1,1112.6 1053.4,1113.1 1054.3,1113.1C1055.2,1113.1 1056.4,1111.5 1057.3,1111.7C1058.2,1111.9 1060.5,1113.5 1061.4,1114.7C1062.3,1115.9 1063.5,1118.6 1064.4,1120.7C1065.3,1122.8 1067.1,1127.7 1068.4,1130.8C1069.7,1133.9 1073.1,1142.2 1073.8,1143.9" fill="none" stroke="#000" stroke-width="4.1" stroke-linejoin="round" stroke-linecap="butt"/>
<path d="M584.1,1212.4C584.9,1211.7 587.6,1208.7 589.1,1208.4C590.6,1208.1 591.8,1208.7 593.1,1210.4C594.5,1212.1 595.7,1215.8 597.2,1218.4C598.7,1221.0 600.4,1224.7 602.2,1226.1C604.0,1227.5 606.4,1226.3 608.2,1226.9C610.1,1227.5 611.8,1227.9 613.3,1229.5C614.8,1231.1 616.0,1234.2 617.3,1236.6C618.6,1238.9 620.1,1242.5 621.3,1243.6C622.5,1244.7 623.3,1244.2 624.3,1243.0C625.3,1241.8 626.2,1238.2 627.4,1236.6C628.6,1235.0 630.2,1232.8 631.4,1233.5C632.6,1234.2 633.4,1236.4 634.4,1240.6C635.4,1244.8 636.2,1252.7 637.4,1258.7C638.6,1264.7 640.1,1272.1 641.5,1276.8C642.9,1281.5 644.0,1284.6 645.5,1286.9C647.0,1289.2 649.0,1288.6 650.5,1290.9C652.0,1293.2 653.1,1297.3 654.5,1301.0C655.9,1304.7 657.4,1310.5 658.6,1313.0C659.8,1315.5 660.4,1316.4 661.6,1316.1C662.8,1315.8 664.1,1312.6 665.6,1311.0C667.1,1309.4 668.9,1307.1 670.6,1306.6C672.3,1306.1 674.0,1306.8 675.7,1308.0C677.4,1309.2 679.2,1312.4 680.7,1314.1C682.2,1315.8 683.4,1317.3 684.7,1318.1C686.1,1318.9 687.4,1319.4 688.8,1318.7C690.1,1318.0 691.3,1316.7 692.8,1314.1C694.3,1311.5 696.1,1306.9 697.8,1303.0C699.5,1299.1 701.2,1294.9 702.9,1290.9C704.6,1286.9 706.4,1283.5 707.9,1278.8C709.4,1274.1 710.7,1269.1 711.9,1262.7C713.1,1256.3 713.9,1248.3 714.9,1240.6C715.9,1232.9 717.0,1222.8 718.0,1216.4C719.0,1210.0 719.8,1205.8 721.0,1202.3C722.2,1198.8 723.5,1196.8 725.0,1195.3C726.5,1193.8 728.3,1193.4 730.0,1193.3C731.7,1193.2 733.2,1193.5 735.1,1194.7C737.0,1195.9 738.8,1197.8 741.1,1200.3C743.4,1202.8 746.4,1206.6 749.1,1209.4C751.8,1212.2 754.9,1214.7 757.2,1217.4C759.6,1220.1 761.2,1222.0 763.2,1225.5C765.2,1229.0 767.4,1233.1 769.3,1238.6C771.1,1244.1 772.8,1251.3 774.3,1258.7C775.8,1266.1 776.9,1274.2 778.3,1282.9C779.6,1291.6 781.0,1301.3 782.4,1311.0C783.8,1320.7 785.1,1331.8 786.4,1341.2C787.7,1350.6 789.1,1360.0 790.4,1367.4C791.7,1374.8 793.3,1381.3 794.4,1385.5C795.5,1389.7 796.3,1390.8 797.2,1392.6C798.1,1394.3 798.9,1395.3 799.6,1396.0C800.3,1396.7 800.9,1397.0 801.6,1396.9C802.3,1396.8 802.9,1396.7 803.6,1395.6C804.3,1394.5 805.0,1393.7 806.0,1390.3C807.0,1386.9 808.2,1381.9 809.5,1375.4C810.8,1368.9 812.5,1359.5 813.6,1351.3C814.8,1343.1 815.4,1335.4 816.4,1326.0C817.4,1316.6 818.6,1303.3 819.6,1294.9C820.6,1286.5 821.5,1281.2 822.6,1275.6C823.7,1270.0 824.8,1265.5 826.2,1261.1C827.6,1256.7 829.5,1252.6 831.1,1249.0C832.7,1245.4 834.4,1241.8 835.9,1239.4C837.4,1237.0 838.8,1235.3 840.1,1234.5C841.4,1233.7 842.5,1234.1 843.7,1234.5C844.9,1234.9 846.1,1236.4 847.4,1237.0C848.7,1237.6 850.1,1238.3 851.6,1238.2C853.1,1238.1 854.8,1236.6 856.4,1236.4C858.0,1236.2 859.8,1237.5 861.3,1237.2C862.8,1236.9 864.2,1235.8 865.5,1234.5C866.8,1233.2 867.8,1230.8 869.1,1229.7C870.4,1228.6 871.9,1227.9 873.3,1227.9C874.7,1227.9 876.2,1228.9 877.6,1229.7C879.0,1230.5 880.3,1231.9 881.8,1232.7C883.3,1233.5 885.0,1234.4 886.6,1234.5C888.2,1234.6 890.0,1233.6 891.4,1233.3C892.8,1233.0 894.0,1232.3 895.1,1232.7C896.2,1233.1 897.1,1234.1 898.1,1235.7C899.1,1237.3 900.1,1240.6 901.1,1242.4C902.1,1244.2 903.1,1245.7 904.1,1246.6C905.1,1247.5 906.1,1248.0 907.1,1247.6C908.1,1247.2 909.3,1246.4 910.2,1244.2C911.1,1242.0 911.6,1237.7 912.6,1234.5C913.6,1231.3 915.0,1228.1 916.2,1224.9C917.4,1221.7 918.5,1218.8 919.8,1215.2C921.1,1211.6 922.6,1206.9 924.1,1203.1C925.6,1199.3 927.3,1195.7 928.9,1192.3C930.5,1188.9 931.9,1185.8 933.7,1182.6C935.5,1179.4 937.8,1175.3 939.6,1173.4C941.4,1171.5 942.9,1172.9 944.6,1171.4C946.3,1169.9 947.9,1166.7 949.6,1164.3C951.3,1161.9 953.2,1160.1 954.7,1157.3C956.2,1154.5 957.4,1151.2 958.7,1147.2C960.0,1143.2 961.4,1136.4 962.7,1133.1C964.0,1129.8 965.2,1129.4 966.7,1127.1C968.2,1124.8 970.1,1122.0 971.8,1119.0C973.5,1116.0 975.1,1113.0 976.8,1109.0C978.5,1105.0 980.1,1099.9 981.8,1094.9C983.5,1089.9 985.4,1083.8 986.9,1078.8C988.4,1073.8 989.6,1070.1 990.9,1064.7C992.2,1059.3 993.4,1052.6 994.9,1046.6C996.4,1040.5 998.3,1033.4 1000.0,1028.4C1001.7,1023.4 1003.3,1020.2 1005.0,1016.4C1006.7,1012.5 1008.5,1008.1 1010.0,1005.3C1011.5,1002.4 1012.6,1000.6 1014.0,999.3C1015.4,997.9 1016.8,997.0 1018.1,997.2C1019.5,997.4 1020.8,998.8 1022.1,1000.3C1023.4,1001.8 1024.8,1005.1 1026.1,1006.3C1027.4,1007.5 1028.8,1007.6 1030.2,1007.3C1031.6,1007.0 1032.9,1005.0 1034.2,1004.3C1035.5,1003.6 1036.7,1003.0 1038.2,1003.3C1039.7,1003.6 1041.5,1005.1 1043.2,1006.3C1044.9,1007.5 1046.6,1009.0 1048.3,1010.3C1050.0,1011.6 1051.8,1012.6 1053.3,1014.3C1054.8,1016.0 1055.9,1017.7 1057.3,1020.4C1058.7,1023.1 1060.1,1027.2 1061.4,1030.5C1062.8,1033.8 1064.1,1037.7 1065.4,1040.5C1066.7,1043.3 1067.9,1045.4 1069.4,1047.6C1070.9,1049.8 1073.6,1052.6 1074.4,1053.6" fill="none" stroke="#ff00d4" stroke-width="7.8" stroke-linejoin="round" stroke-linecap="butt"/>
</svg>
</body></html>
